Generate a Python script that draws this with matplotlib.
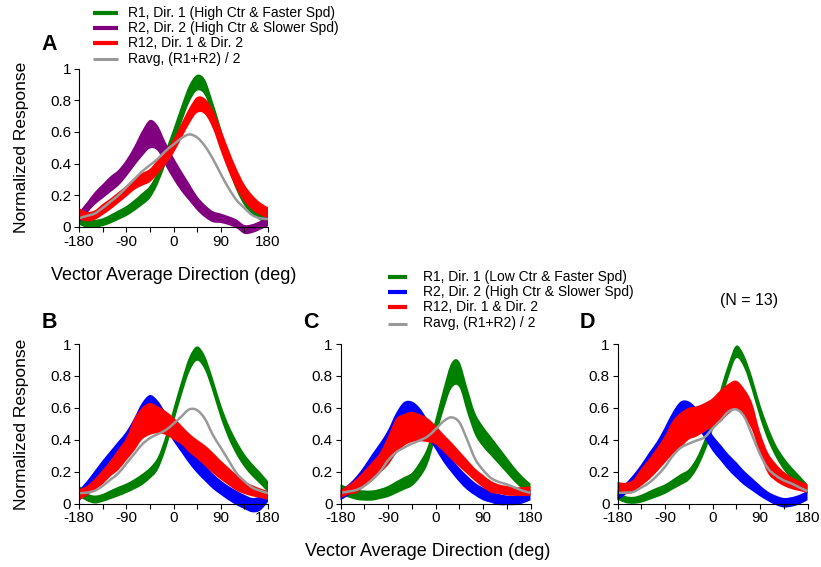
import numpy as np
import matplotlib
matplotlib.use("Agg")
import matplotlib.pyplot as plt
from matplotlib.lines import Line2D
from matplotlib.path import Path
from matplotlib.patches import PathPatch

plt.rcParams['font.family'] = ['Liberation Sans', 'DejaVu Sans']

W, H = 821, 567

# vector average direction (deg), sampled every 15 deg
DIRS = np.arange(-180, 181, 15)

# ---- panel A: high ctr, faster vs slower speed ----
A_R1_MEAN = [.04, .02, .02, .03, .05, .075, .10, .135, .175, .22, .31, .44, .57,
             .71, .84, .91, .88, .74, .58, .41, .27, .17, .11, .07, .05]
A_R1_SEM = [.025, .025, .025, .025, .028, .03, .032, .035, .038, .04, .042, .045, .05,
            .055, .055, .05, .05, .05, .048, .045, .04, .035, .03, .028, .025]
A_R2_MEAN = [.06, .12, .18, .225, .27, .31, .37, .445, .525, .585, .56, .46, .37,
             .29, .22, .15, .10, .065, .055, .04, .02, -.015, -.01, .01, .035]
A_R2_SEM = [.035, .035, .04, .045, .05, .05, .053, .062, .08, .09, .08, .075, .07,
            .065, .055, .045, .04, .035, .03, .028, .028, .028, .028, .028, .03]
A_R12_MEAN = [.085, .065, .075, .11, .145, .185, .225, .27, .30, .325, .38, .44, .51,
              .605, .70, .77, .76, .68, .55, .42, .305, .215, .155, .115, .09]
A_R12_SEM = [.035, .03, .03, .035, .035, .035, .035, .037, .04, .042, .045, .045, .045,
             .048, .05, .05, .05, .06, .07, .07, .065, .055, .048, .04, .035]
A_RAVG = [.055, .07, .085, .12, .16, .20, .25, .30, .35, .39, .43, .48, .52,
          .56, .584, .565, .51, .43, .335, .245, .17, .12, .075, .055, .05]

# ---- panel B ----
B_R1_MEAN = [.08, .04, .025, .035, .055, .075, .095, .12, .15, .19, .25, .38, .55,
             .72, .87, .94, .88, .74, .58, .45, .35, .27, .21, .16, .105]
B_R1_SEM = [.035, .025, .025, .025, .028, .03, .03, .032, .035, .035, .04, .045, .048,
            .048, .048, .045, .045, .045, .045, .045, .045, .042, .04, .038, .035]
B_R2_MEAN = [.05, .10, .16, .22, .28, .34, .40, .48, .57, .62, .59, .52, .44,
             .37, .30, .24, .19, .14, .10, .065, .035, .01, -.01, .0, .045]
B_R2_SEM = [.035, .04, .045, .05, .05, .05, .05, .055, .06, .06, .055, .05, .05,
            .05, .05, .05, .05, .048, .045, .045, .045, .045, .045, .045, .035]
B_R12_MEAN = [.055, .08, .12, .165, .22, .275, .34, .43, .50, .53, .525, .505, .47,
              .43, .38, .34, .30, .255, .21, .17, .13, .10, .08, .065, .05]
B_R12_SEM = [.035, .03, .035, .045, .05, .065, .07, .10, .10, .10, .085, .075, .07,
             .06, .06, .06, .065, .065, .06, .055, .05, .04, .035, .03, .028]
B_RAVG = [.065, .068, .08, .11, .15, .19, .25, .31, .37, .41, .435, .46, .50,
          .545, .59, .585, .53, .43, .35, .27, .19, .14, .10, .08, .065]

# ---- panel C ----
C_R1_MEAN = [.085, .07, .055, .05, .05, .06, .075, .10, .125, .15, .21, .30, .47,
             .65, .80, .81, .65, .50, .42, .36, .30, .24, .18, .13, .09]
C_R1_SEM = [.035, .032, .032, .032, .032, .032, .035, .038, .04, .042, .05, .055, .06,
            .07, .08, .08, .08, .07, .065, .06, .055, .05, .045, .04, .035]
C_R2_MEAN = [.05, .085, .13, .19, .26, .33, .41, .51, .575, .58, .54, .47, .39,
             .31, .24, .18, .13, .09, .06, .04, .025, .02, .02, .03, .05]
C_R2_SEM = [.03, .035, .04, .045, .05, .05, .05, .055, .06, .06, .06, .055, .05,
            .05, .045, .045, .045, .04, .04, .035, .035, .03, .03, .03, .03]
C_R12_MEAN = [.06, .085, .11, .155, .20, .255, .33, .42, .46, .48, .475, .46, .43,
              .38, .33, .28, .23, .18, .14, .105, .09, .08, .075, .075, .078]
C_R12_SEM = [.026, .03, .045, .05, .06, .065, .09, .11, .10, .095, .085, .075, .06,
             .055, .055, .05, .045, .04, .04, .037, .03, .03, .027, .028, .03]
C_RAVG = [.067, .075, .085, .11, .15, .20, .27, .32, .35, .375, .395, .42, .465,
          .515, .54, .51, .40, .28, .21, .16, .135, .12, .10, .08, .067]

# ---- panel D ----
D_R1_MEAN = [.05, .025, .02, .03, .05, .07, .09, .12, .15, .18, .25, .36, .50,
             .67, .83, .95, .89, .75, .58, .44, .33, .25, .19, .14, .09]
D_R1_SEM = [.025, .022, .022, .025, .028, .03, .03, .032, .035, .035, .038, .042, .045,
            .045, .045, .04, .04, .045, .045, .045, .04, .04, .038, .035, .03]
D_R2_MEAN = [.05, .09, .14, .20, .27, .34, .43, .52, .585, .585, .54, .46, .38,
             .32, .26, .21, .16, .12, .08, .045, .02, .005, .01, .025, .05]
D_R2_SEM = [.03, .035, .04, .045, .05, .05, .05, .055, .055, .055, .055, .05, .05,
            .05, .05, .05, .045, .04, .035, .03, .03, .03, .03, .03, .03]
D_R12_MEAN = [.105, .095, .11, .165, .215, .275, .34, .415, .46, .50, .515, .54, .57,
              .61, .655, .68, .63, .545, .38, .255, .195, .155, .128, .11, .094]
D_R12_SEM = [.03, .035, .04, .055, .065, .075, .085, .105, .11, .10, .095, .09, .09,
             .10, .095, .09, .09, .085, .07, .065, .055, .045, .038, .032, .027]
D_RAVG = [.067, .068, .073, .10, .13, .175, .23, .30, .35, .375, .395, .415, .47,
          .52, .575, .59, .545, .43, .31, .22, .175, .145, .125, .10, .077]

GREEN = '#008000'
PURPLE = '#800080'
BLUE = '#0000ff'
RED = '#ff0000'
GRAY = '#999999'

LEGEND_A = ['R1, Dir. 1 (High Ctr & Faster Spd)',
            'R2, Dir. 2 (High Ctr & Slower Spd)',
            'R12, Dir. 1 & Dir. 2',
            'Ravg, (R1+R2) / 2']
LEGEND_BCD = ['R1, Dir. 1 (Low Ctr & Faster Spd)',
              'R2, Dir. 2 (High Ctr & Slower Spd)',
              'R12, Dir. 1 & Dir. 2',
              'Ravg, (R1+R2) / 2']


def fx(px):
    return px / W


def fy(py):
    return 1 - py / H


def smooth_segments(x, y):
    """Cubic Bezier (Catmull-Rom style) path through the sampled points."""
    pts = np.column_stack([x, y]).astype(float)
    ext = np.vstack([pts[0], pts, pts[-1]])
    verts = [pts[0]]
    codes = [Path.MOVETO]
    for i in range(len(pts) - 1):
        p0, p1, p2, p3 = ext[i], ext[i + 1], ext[i + 2], ext[i + 3]
        verts += [p1 + (p2 - p0) / 6, p2 - (p3 - p1) / 6, p2]
        codes += [Path.CURVE4] * 3
    return verts, codes


def band(ax, mean, sem, color):
    mean = np.asarray(mean)
    sem = np.asarray(sem)
    v_up, c_up = smooth_segments(DIRS, mean + sem)
    v_lo, c_lo = smooth_segments(DIRS[::-1], (mean - sem)[::-1])
    c_lo[0] = Path.LINETO
    verts = v_up + v_lo + [v_up[0]]
    codes = c_up + c_lo + [Path.CLOSEPOLY]
    ax.add_patch(PathPatch(Path(verts, codes), facecolor=color, edgecolor='none',
                           lw=0, clip_on=False))


def smooth_line(ax, y, color, lw):
    verts, codes = smooth_segments(DIRS, y)
    ax.add_patch(PathPatch(Path(verts, codes), facecolor='none', edgecolor=color,
                           lw=lw, clip_on=False))


def draw_panel(ax, r1, r2, r12, ravg, r2_color):
    for (mean, sem), col in zip([r1, r2, r12], [GREEN, r2_color, RED]):
        band(ax, mean, sem, col)
    smooth_line(ax, ravg, GRAY, 1.8)

    ax.set_xlim(-180, 180)
    ax.set_ylim(0, 1)
    for s in ['top', 'right']:
        ax.spines[s].set_visible(False)
    ax.spines['left'].set_bounds(0, 1)
    ax.spines['bottom'].set_bounds(-180, 180)
    for s in ['left', 'bottom']:
        ax.spines[s].set_linewidth(0.8)
    ax.set_xticks([-180, -90, 0, 90, 180])
    ax.set_xticks([-135, -45, 45, 135], minor=True)
    ax.set_xticklabels(['-180', '-90', '0', '90', '180'])
    ax.set_yticks([0, 0.2, 0.4, 0.6, 0.8, 1])
    ax.set_yticklabels(['0', '0.2', '0.4', '0.6', '0.8', '1'])
    ax.tick_params(which='both', direction='out', length=3.5, width=0.8,
                   labelsize=11, pad=2)
    ax.patch.set_visible(False)


def draw_legend(fig, labels, colors, x0, x1, xt, rows):
    for lab, col, y in zip(labels, colors, rows):
        lw = 2.2 if col == GRAY else 3.0
        fig.add_artist(Line2D([fx(x0), fx(x1)], [fy(y), fy(y)], color=col,
                              lw=lw, solid_capstyle='butt'))
        fig.text(fx(xt), fy(y), lab, fontsize=10, ha='left', va='center')


fig = plt.figure(figsize=(W / 100, H / 100), dpi=100)

ax_a = fig.add_axes([fx(79), fy(227), 189 / W, 158.5 / H])
ax_b = fig.add_axes([fx(79), fy(503.5), 189 / W, 159.5 / H])
ax_c = fig.add_axes([fx(340.5), fy(503.5), 190 / W, 159.5 / H])
ax_d = fig.add_axes([fx(617.5), fy(503.5), 190 / W, 159.5 / H])

draw_panel(ax_a, (A_R1_MEAN, A_R1_SEM), (A_R2_MEAN, A_R2_SEM),
           (A_R12_MEAN, A_R12_SEM), A_RAVG, PURPLE)
draw_panel(ax_b, (B_R1_MEAN, B_R1_SEM), (B_R2_MEAN, B_R2_SEM),
           (B_R12_MEAN, B_R12_SEM), B_RAVG, BLUE)
draw_panel(ax_c, (C_R1_MEAN, C_R1_SEM), (C_R2_MEAN, C_R2_SEM),
           (C_R12_MEAN, C_R12_SEM), C_RAVG, BLUE)
draw_panel(ax_d, (D_R1_MEAN, D_R1_SEM), (D_R2_MEAN, D_R2_SEM),
           (D_R12_MEAN, D_R12_SEM), D_RAVG, BLUE)

# panel letters
for letter, (px, py) in zip('ABCD', [(41.5, 45), (41.5, 322), (303, 322), (580, 322)]):
    fig.text(fx(px), fy(py), letter, fontsize=15.5, fontweight='bold',
             ha='left', va='center')

# axis labels
fig.text(fx(21.7), fy(147.5), 'Normalized Response', rotation=90,
         fontsize=12.5, ha='center', va='center')
fig.text(fx(21.7), fy(424), 'Normalized Response', rotation=90,
         fontsize=12.5, ha='center', va='center')
fig.text(fx(173.5), fy(275), 'Vector Average Direction (deg)',
         fontsize=13, ha='center', va='center')
fig.text(fx(428), fy(551), 'Vector Average Direction (deg)',
         fontsize=13, ha='center', va='center')
fig.text(fx(749), fy(300), '(N = 13)', fontsize=11.5, ha='center', va='center')

draw_legend(fig, LEGEND_A, [GREEN, PURPLE, RED, GRAY], 93, 118, 128,
            [13.3, 28, 43.3, 59])
draw_legend(fig, LEGEND_BCD, [GREEN, BLUE, RED, GRAY], 388, 407, 423,
            [276.7, 291.7, 307.3, 323.5])

fig.savefig('out.png', dpi=100)
